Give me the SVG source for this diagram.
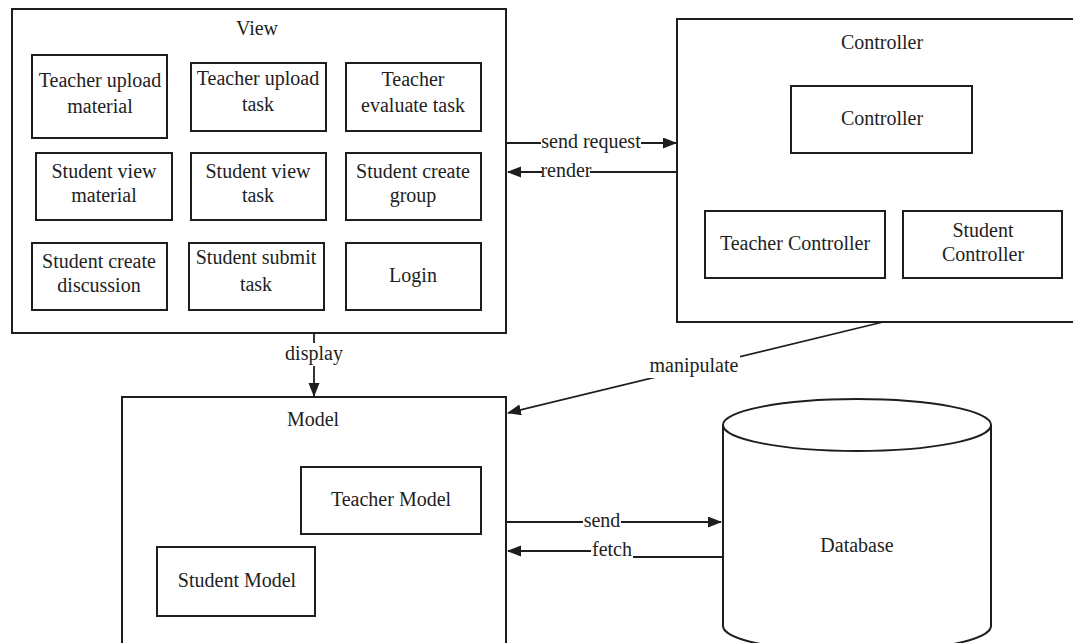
<svg xmlns="http://www.w3.org/2000/svg" width="1073" height="643" viewBox="0 0 1073 643">
<style>
  .box { fill: #ffffff; stroke: #1e1e1e; stroke-width: 2; }
  .outer { fill: #ffffff; stroke: #1e1e1e; stroke-width: 2; }
  text { font-family: "Liberation Serif", "Times New Roman", serif; font-size: 20px; fill: #1e1e1e; text-anchor: middle; }
  .conn { fill: none; stroke: #1e1e1e; stroke-width: 1.8; }
  .lblbg { fill: #ffffff; }
</style>
<defs>
  <marker id="arrow" markerUnits="userSpaceOnUse" markerWidth="14" markerHeight="12" refX="13" refY="5.5" orient="auto">
    <path d="M0,0 L14,5.5 L0,11 Z" fill="#1e1e1e"/>
  </marker>
</defs>
<rect width="1073" height="643" fill="#ffffff"/>

<g id="view">
  <rect class="outer" x="12" y="9" width="494" height="324"/>
  <text x="257" y="35">View</text>
</g>
<g id="teacher-upload-material">
  <rect class="box" x="32" y="55" width="135" height="83"/>
  <text x="100" y="87">Teacher upload</text>
  <text x="100" y="113">material</text>
</g>
<g id="teacher-upload-task">
  <rect class="box" x="191" y="63" width="135" height="68"/>
  <text x="258" y="85">Teacher upload</text>
  <text x="258" y="111">task</text>
</g>
<g id="teacher-evaluate-task">
  <rect class="box" x="346" y="63" width="135" height="68"/>
  <text x="413" y="86">Teacher</text>
  <text x="413" y="112">evaluate task</text>
</g>
<g id="student-view-material">
  <rect class="box" x="36" y="153" width="136" height="67"/>
  <text x="104" y="178">Student view</text>
  <text x="104" y="202">material</text>
</g>
<g id="student-view-task">
  <rect class="box" x="191" y="153" width="135" height="67"/>
  <text x="258" y="178">Student view</text>
  <text x="258" y="202">task</text>
</g>
<g id="student-create-group">
  <rect class="box" x="346" y="153" width="135" height="67"/>
  <text x="413" y="178">Student create</text>
  <text x="413" y="202">group</text>
</g>
<g id="student-create-discussion">
  <rect class="box" x="32" y="243" width="135" height="67"/>
  <text x="99" y="268">Student create</text>
  <text x="99" y="292">discussion</text>
</g>
<g id="student-submit-task">
  <rect class="box" x="189" y="243" width="135" height="67"/>
  <text x="256" y="264">Student submit</text>
  <text x="256" y="291">task</text>
</g>
<g id="login">
  <rect class="box" x="346" y="243" width="135" height="67"/>
  <text x="413" y="282">Login</text>
</g>

<g id="controller-group">
  <rect class="outer" x="677" y="19" width="400" height="303"/>
  <text x="882" y="49">Controller</text>
</g>
<g id="controller">
  <rect class="box" x="791" y="86" width="181" height="67"/>
  <text x="882" y="125">Controller</text>
</g>
<g id="teacher-controller">
  <rect class="box" x="705" y="211" width="180" height="67"/>
  <text x="795" y="250">Teacher Controller</text>
</g>
<g id="student-controller">
  <rect class="box" x="903" y="211" width="159" height="67"/>
  <text x="983" y="237">Student</text>
  <text x="983" y="261">Controller</text>
</g>

<g id="model">
  <rect class="outer" x="122" y="397" width="384" height="260"/>
  <text x="313" y="426">Model</text>
</g>
<g id="teacher-model">
  <rect class="box" x="301" y="467" width="180" height="67"/>
  <text x="391" y="506">Teacher Model</text>
</g>
<g id="student-model">
  <rect class="box" x="157" y="547" width="158" height="69"/>
  <text x="237" y="587">Student Model</text>
</g>

<g id="database">
  <path class="box" d="M723,425 A134,26 0 0 1 991,425 V626 A134,26 0 0 1 723,626 Z"/>
  <path class="box" d="M723,425 A134,26 0 0 0 991,425" fill="none"/>
  <text x="857" y="552">Database</text>
</g>

<g id="connectors">
  <path class="conn" d="M506,143 H676" marker-end="url(#arrow)"/>
  <rect class="lblbg" x="541" y="132" width="100" height="20"/>
  <text x="591" y="148">send request</text>

  <path class="conn" d="M677,172 H508" marker-end="url(#arrow)"/>
  <rect class="lblbg" x="542" y="161" width="48" height="20"/>
  <text x="566" y="177">render</text>

  <path class="conn" d="M883,322 L508,413" marker-end="url(#arrow)"/>
  <rect class="lblbg" x="648" y="356" width="92" height="22"/>
  <text x="694" y="372">manipulate</text>

  <path class="conn" d="M314,333 V396" marker-end="url(#arrow)"/>
  <rect class="lblbg" x="283" y="343" width="62" height="23"/>
  <text x="314" y="360">display</text>

  <path class="conn" d="M506,522 H721" marker-end="url(#arrow)"/>
  <rect class="lblbg" x="583" y="511" width="38" height="19"/>
  <text x="602" y="527">send</text>

  <path class="conn" d="M723,557 H628 L600,551 H508" marker-end="url(#arrow)"/>
  <rect class="lblbg" x="591" y="540" width="42" height="21"/>
  <text x="612" y="556">fetch</text>
</g>
</svg>
